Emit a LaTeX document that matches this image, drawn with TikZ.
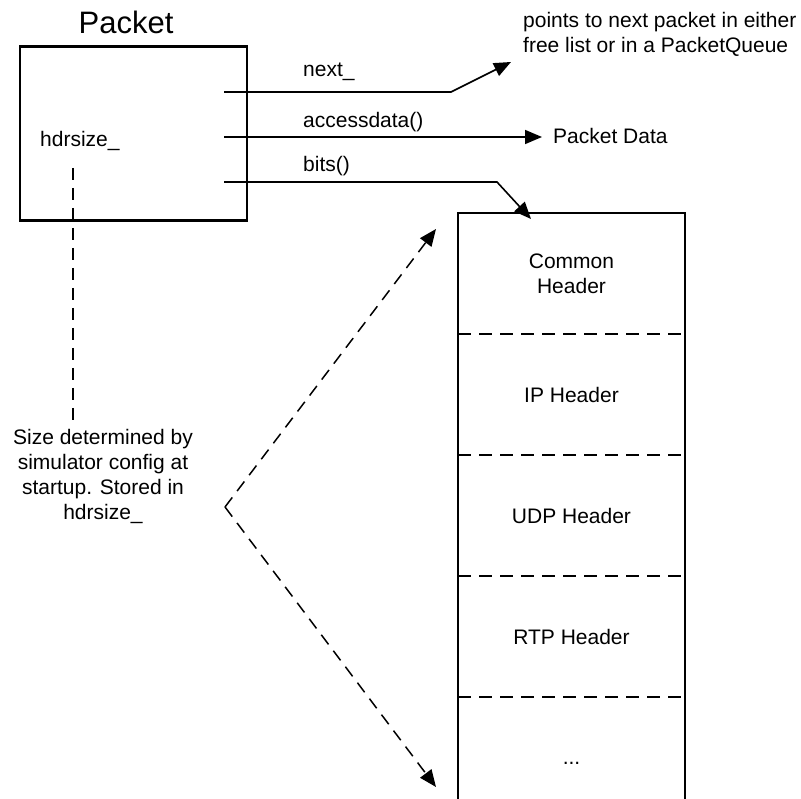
\documentclass[tikz,border=0pt]{standalone}
\usepackage{fontspec}
\setmainfont{Liberation Sans}
\usetikzlibrary{arrows.meta}
\begin{document}
\begin{tikzpicture}[x=1pt,y=-1pt,
  txt/.style={font=\fontsize{21}{25}\selectfont, inner sep=0pt},
  conn/.style={line width=1.6pt},
  tip/.style={-{Triangle[length=17pt,width=14pt]}},
  dsh/.style={line width=1.5pt, dash pattern=on 12pt off 8pt},
  sep/.style={line width=1.5pt, dash pattern=on 13pt off 8pt},
]
\useasboundingbox (0,0) rectangle (801,799);

% the Packet object
\node[draw, line width=2.6pt, minimum width=227pt, minimum height=174pt, inner sep=0pt] (pkt) at (133.5,133.5) {};
\node[font=\fontsize{31}{36}\selectfont, inner sep=0pt, anchor=base] (title) at (126,34) {Packet};
\node[txt, anchor=base west] (hs) at (40,147) {hdrsize\_};

% member labels
\node[txt, anchor=base west] (lnext) at (303,77) {next\_};
\node[txt, anchor=base west] (lacc) at (303,128) {accessdata()};
\node[txt, anchor=base west] (lbits) at (303,172) {bits()};

% targets of the pointers
\node[txt, anchor=base west, align=left] (ptr) at (523,53) {points to next packet in either\\free list or in a PacketQueue};
\node[txt, anchor=base west] (pdata) at (553,144) {Packet Data};

% pointer start/bend points
\coordinate (n0) at (224,92);
\coordinate (n1) at (451,92);
\coordinate (n2) at (511,62);
\coordinate (a0) at (224,137);
\coordinate (a1) at (542,137);
\coordinate (b0) at (224,182);
\coordinate (b1) at (497,182);
\coordinate (b2) at (531,219);

\draw[conn, tip] (n0) -- (n1) -- (n2);
\draw[conn, tip] (a0) -- (a1);
\draw[conn, tip] (b0) -- (b1) -- (b2);

% header stack (open at the bottom)
\draw[line width=1.6pt] (458,805) -- (458,213) -- (685,213) -- (685,805);
\foreach \yy in {334,455,576,697}
  \draw[sep] (458,\yy) -- (685,\yy);

\node[txt, align=center] (hcommon) at (571.5,273.5) {Common\\Header};
\node[txt] (hip) at (571.5,394.5) {IP Header};
\node[txt] (hudp) at (571.5,515.5) {UDP Header};
\node[txt] (hrtp) at (571.5,636.5) {RTP Header};
\node[txt, anchor=base] (hmore) at (571.5,764) {...};

% size note
\node[txt, align=center, anchor=north] (note) at (103,429.5) {Size determined by\\simulator config at\\startup. Stored in\\hdrsize\_};
\coordinate (d0) at (73,168);
\coordinate (d1) at (73,425);
\draw[dsh] (d0) -- (d1);

% span of the header stack
\coordinate (vx) at (225,507);
\coordinate (vt) at (436,229);
\coordinate (vb) at (436,787);
\draw[dsh, tip] (vx) -- (vt);
\draw[dsh, tip] (vx) -- (vb);
\end{tikzpicture}
\end{document}
